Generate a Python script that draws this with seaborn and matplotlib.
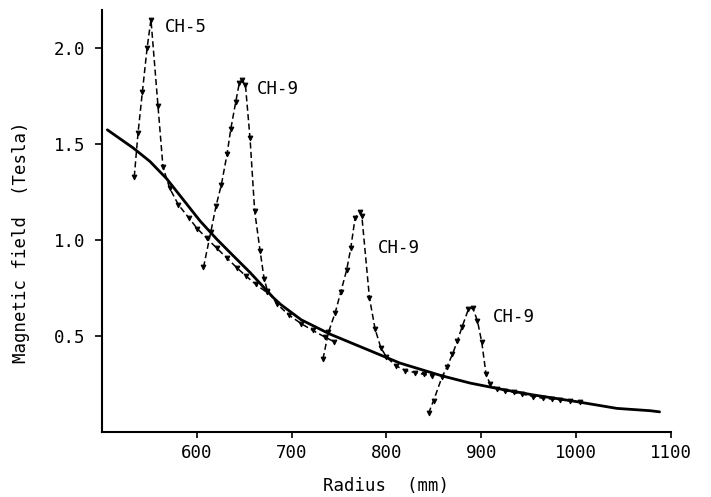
import matplotlib
matplotlib.use("Agg")
import matplotlib.pyplot as plt
import seaborn as sns
import pandas as pd

# Calculated field (solid curve)
calc_r = [505.6, 533, 550.6, 568.2, 585.8, 603.4, 621, 638.5, 656, 680.7, 687.8,
          710, 740.5, 814.3, 858.3, 888.2, 919.8, 955, 1000.7, 1043, 1078, 1088]
calc_b = [1.575, 1.48, 1.41, 1.32, 1.21, 1.10, 1.005, 0.918, 0.832, 0.70, 0.667,
          0.585, 0.51, 0.359, 0.293, 0.255, 0.224, 0.193, 0.158, 0.123, 0.111, 0.105]

# Measured field, one scan per coil
ch5_r = [534, 538, 542.5, 547.5, 551.6, 559, 564.3, 571.4, 580.5, 591.5, 600.5,
         610.4, 621, 631.5, 642, 651.6, 662, 673.7]
ch5_b = [1.33, 1.56, 1.77, 2.00, 2.15, 1.70, 1.38, 1.27, 1.185, 1.116, 1.06,
         1.01, 0.958, 0.908, 0.857, 0.814, 0.77, 0.728]

ch9a_r = [607, 614.6, 620.3, 625.9, 631.9, 635.8, 641, 644.8, 647.7, 651.2, 656.1,
          661, 666.7, 670.9, 674.4, 685, 697, 710, 722, 735, 745]
ch9a_b = [0.858, 1.04, 1.18, 1.29, 1.45, 1.58, 1.72, 1.82, 1.835, 1.81, 1.53,
          1.15, 0.944, 0.80, 0.736, 0.665, 0.61, 0.565, 0.53, 0.495, 0.47]

ch9b_r = [733, 738.7, 745.8, 751.7, 758, 762.3, 766.9, 772.2, 774, 782, 788,
          794, 800, 810, 820, 830, 840, 848]
ch9b_b = [0.38, 0.519, 0.62, 0.728, 0.845, 0.957, 1.118, 1.147, 1.126, 0.70, 0.536,
          0.44, 0.39, 0.345, 0.32, 0.31, 0.30, 0.293]

ch9c_r = [844.3, 849.6, 858.4, 863.6, 869.6, 874.8, 879.5, 886.4, 891, 895.9, 900.5,
          905, 909.3, 916.3, 925, 934, 942.7, 955, 965.5, 974.4, 983, 993.7, 1004]
ch9c_b = [0.097, 0.163, 0.285, 0.337, 0.406, 0.475, 0.545, 0.64, 0.646, 0.58, 0.467,
          0.30, 0.25, 0.224, 0.215, 0.206, 0.198, 0.185, 0.175, 0.172, 0.168, 0.163, 0.155]

peak_labels = ["CH-5", "CH-9", "CH-9", "CH-9"]
label_r = [566, 663, 791, 912]
label_b = [2.11, 1.79, 0.96, 0.60]

x_ticks = [600, 700, 800, 900, 1000, 1100]
y_ticks = [0.5, 1.0, 1.5, 2.0]

sns.set_style("ticks")
plt.rcParams["font.family"] = ["DejaVu Sans Mono"]
FS = 12.5

fig = plt.figure(figsize=(7.11, 4.97), dpi=100)
ax = fig.add_axes([0.1435, 0.1308, 0.8002, 0.8492])

calc = pd.DataFrame({"r": calc_r, "b": calc_b})
sns.lineplot(data=calc, x="r", y="b", ax=ax, color="black", linewidth=2.0, sort=False)

for r, b in [(ch5_r, ch5_b), (ch9a_r, ch9a_b), (ch9b_r, ch9b_b), (ch9c_r, ch9c_b)]:
    scan = pd.DataFrame({"r": r, "b": b})
    sns.lineplot(data=scan, x="r", y="b", ax=ax, color="black", linewidth=1.1,
                 linestyle=(0, (4, 2.2)), marker="v", markersize=3.4,
                 markeredgecolor="black", sort=False)

for txt, r, b in zip(peak_labels, label_r, label_b):
    ax.text(r, b, txt, fontsize=FS, ha="left", va="center", color="black")

ax.set_xlim(500, 1100)
ax.set_ylim(0, 2.2)
ax.set_xticks(x_ticks)
ax.set_yticks(y_ticks)
ax.set_xticklabels([str(t) for t in x_ticks])
ax.set_yticklabels([f"{t:.1f}" for t in y_ticks])
ax.tick_params(axis="x", direction="out", length=4, width=1.2, labelsize=FS,
               colors="black", pad=5)
ax.tick_params(axis="y", direction="out", length=5, width=1.2, labelsize=FS,
               colors="black", pad=7)
ax.set_xlabel("Radius  (mm)", fontsize=FS, va="top", color="black")
ax.set_ylabel("Magnetic field  (Tesla)", fontsize=FS, color="black")
ax.xaxis.set_label_coords(0.5, -0.106)
ax.yaxis.set_label_coords(-0.127, 0.45)
sns.despine(ax=ax)
for side in ["left", "bottom"]:
    ax.spines[side].set_linewidth(1.5)
    ax.spines[side].set_color("black")

fig.savefig("out.png", dpi=100)
